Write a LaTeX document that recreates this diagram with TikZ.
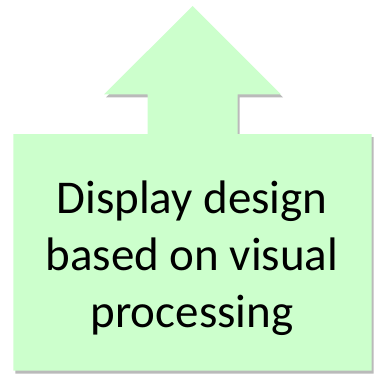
\documentclass[tikz,border=0pt]{standalone}
\usepackage{fontspec}
\setmainfont{Carlito}
\usetikzlibrary{shadows}
\definecolor{boxgreen}{RGB}{204,255,204}
\tikzset{
  shapefill/.style={fill=boxgreen, draw=none,
    drop shadow={shadow xshift=2pt, shadow yshift=-3pt, opacity=0.45, fill=black!60}},
  label/.style={align=center, font=\fontsize{47}{57}\selectfont, text=black, inner sep=0pt}
}
\begin{document}
\begin{tikzpicture}[x=1pt,y=-1pt]
\useasboundingbox (0,0) rectangle (375,375);
\path[shapefill] (192.7,6) -- (281,94.3) -- (237.7,94.3) -- (237.7,134) -- (371.7,134)
  -- (371.7,370.7) -- (13.3,370.7) -- (13.3,134) -- (147.7,134) -- (147.7,94.3)
  -- (104,94.3) -- cycle;
\node[label] (txt) at (192,258) {Display design\\based on visual\\processing};
\end{tikzpicture}
\end{document}
